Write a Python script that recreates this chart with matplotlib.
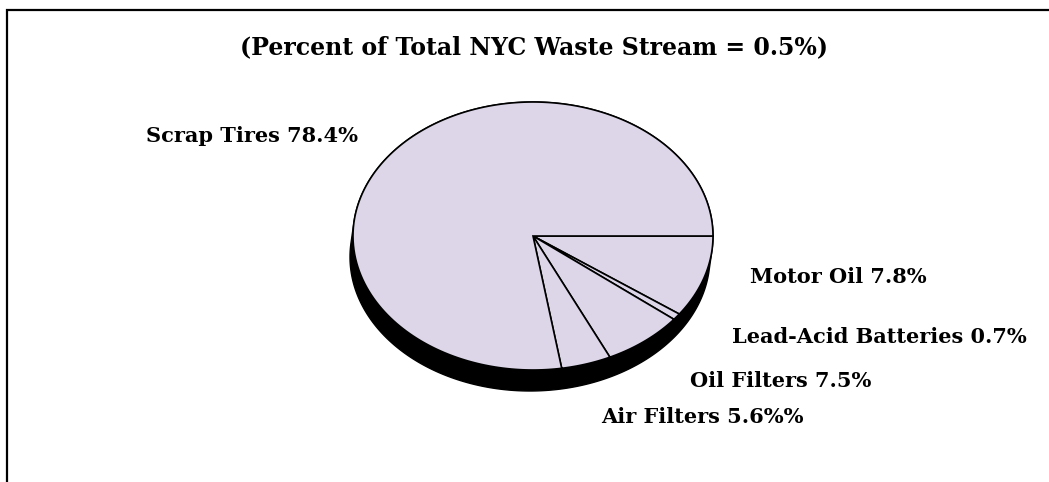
import numpy as np
import matplotlib
matplotlib.use("Agg")
import matplotlib.pyplot as plt
from matplotlib.patches import Polygon

# data (clockwise from 3 o'clock)
names = ["Motor Oil", "Lead-Acid Batteries", "Oil Filters", "Air Filters", "Scrap Tires"]
shares = [7.8, 0.7, 7.5, 5.6, 78.4]
label_texts = ["Motor Oil 7.8%", "Lead-Acid Batteries 0.7%", "Oil Filters 7.5%",
               "Air Filters 5.6%%", "Scrap Tires 78.4%"]
title = "(Percent of Total NYC Waste Stream = 0.5%)"

# layout in pixel units
W, H = 1049, 482
cx, cy = 533, 236
a, b = 180, 134
depth = (-3, 21)
label_pos = [(838, 277), (879, 337), (781, 381), (702, 417), (252, 136)]

fill = "#DCD6E8"
font = dict(family="DejaVu Serif", fontweight="bold", color="black")

fig = plt.figure(figsize=(W / 100, H / 100), dpi=100)
ax = fig.add_axes([0, 0, 1, 1])
ax.set_xlim(0, W)
ax.set_ylim(H, 0)
ax.axis("off")


def rim(phi):
    r = 1.0 / np.sqrt((np.cos(phi) / a) ** 2 + (np.sin(phi) / b) ** 2)
    return cx + r * np.cos(phi), cy + r * np.sin(phi)


# side wall of the 3d pie (ellipse swept along the depth offset)
t = np.linspace(0, 2 * np.pi, 720)
nx, ny = np.cos(t) / a, np.sin(t) / b
use = (nx * depth[0] + ny * depth[1]) > 0
sx = cx + a * np.cos(t) + np.where(use, depth[0], 0)
sy = cy + b * np.sin(t) + np.where(use, depth[1], 0)
ax.add_patch(Polygon(np.column_stack([sx, sy]), closed=True, facecolor="black",
                     edgecolor="black", lw=1))

# top face slices
bounds = np.concatenate([[0], np.cumsum(shares)]) / 100 * 2 * np.pi
for i in range(len(shares)):
    phi = np.linspace(bounds[i], bounds[i + 1], 200)
    px, py = rim(phi)
    pts = np.column_stack([np.r_[cx, px], np.r_[cy, py]])
    ax.add_patch(Polygon(pts, closed=True, facecolor=fill, edgecolor="black",
                         lw=1.2, joinstyle="miter"))

for txt, (x, y) in zip(label_texts, label_pos):
    ax.text(x, y, txt, ha="center", va="center", fontsize=15, **font)

ax.text(534, 47, title, ha="center", va="center", fontsize=17, **font)

# frame: left and top only
ax.plot([7, 7, W], [H, 10, 10], color="black", lw=1.6, solid_joinstyle="miter")

fig.savefig("out.png", dpi=100)
